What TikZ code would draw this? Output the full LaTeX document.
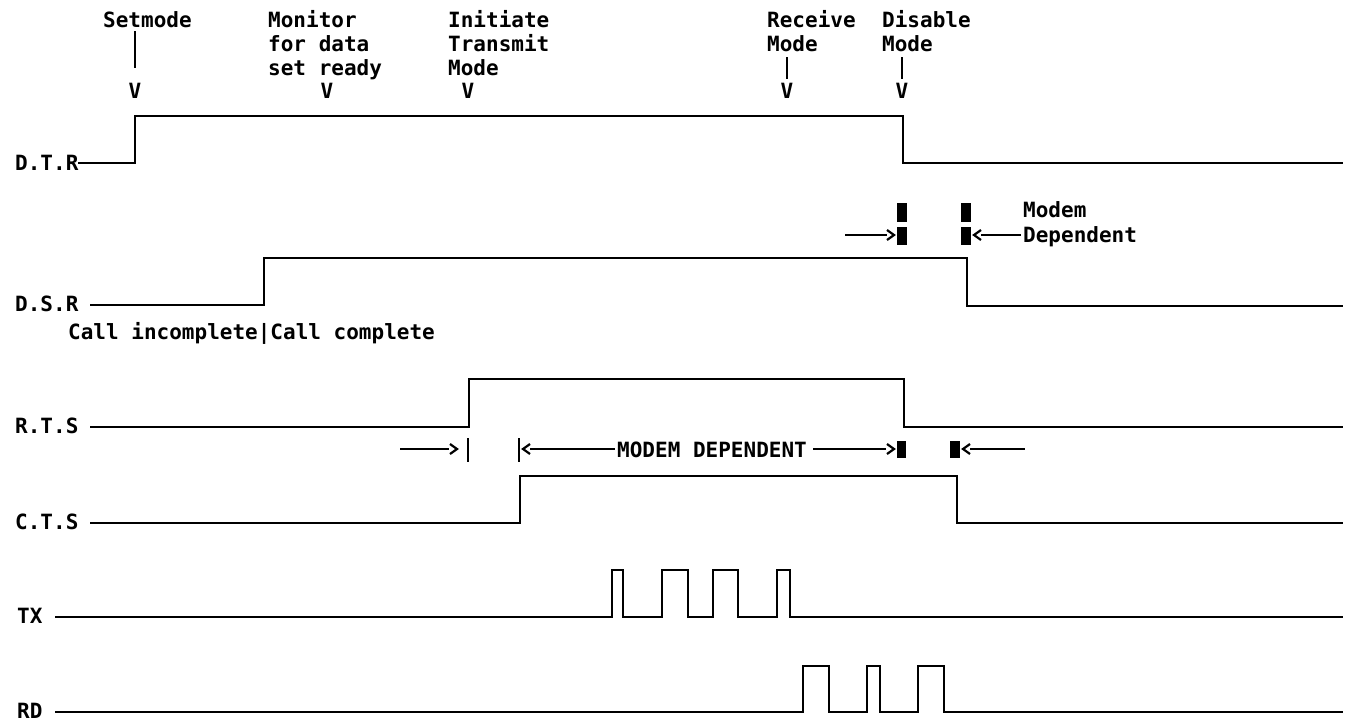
\documentclass[tikz,border=0pt]{standalone}
\usepackage{fontspec}
\newfontfamily\mono{DejaVu Sans Mono Bold}
\begin{document}
\begin{tikzpicture}[x=1pt,y=-1pt,
  sig/.style={line width=2.8pt,line join=miter},
  tick/.style={line width=2.4pt},
  chev/.style={line width=2.2pt,line join=miter},
  txt/.style={inner sep=0pt,anchor=base west,font=\mono\fontsize{21}{24}\selectfont},
  ctxt/.style={inner sep=0pt,anchor=base,font=\mono\fontsize{21}{24}\selectfont},
  blk/.style={fill=black,draw=none}]
\useasboundingbox (0,0) rectangle (1346,721);

% ---- top event labels ----
\node[txt] (setmode) at (103,27) {Setmode};
\draw[tick] (135,31) -- (135,68);
\node[ctxt] (v1) at (135,98) {V};

\node[txt] (mon1) at (268,27) {Monitor};
\node[txt] (mon2) at (268,51) {for data};
\node[txt] (mon3) at (268,75) {set ready};
\node[ctxt] (v2) at (327,98) {V};

\node[txt] (ini1) at (448,27) {Initiate};
\node[txt] (ini2) at (448,51) {Transmit};
\node[txt] (ini3) at (448,75) {Mode};
\node[ctxt] (v3) at (468,98) {V};

\node[txt] (rec1) at (767,27) {Receive};
\node[txt] (rec2) at (767,51) {Mode};
\draw[tick] (787,57) -- (787,79);
\node[ctxt] (v4) at (787,98) {V};

\node[txt] (dis1) at (882,27) {Disable};
\node[txt] (dis2) at (882,51) {Mode};
\draw[tick] (902,57) -- (902,79);
\node[ctxt] (v5) at (902,98) {V};

% ---- D.T.R ----
\node[txt] (dtr) at (15,170) {D.T.R};
\coordinate (dtrS) at (78,163);
\draw[sig] (dtrS) -- (135,163) -- (135,116) -- (903,116) -- (903,163) -- (1343,163);

% ---- Modem dependent (DTR/DSR) ----
\node[txt] (modem) at (1023,217) {Modem};
\node[txt] (dep) at (1023,242) {Dependent};
\fill[blk] (897,203) rectangle (907,222);
\fill[blk] (897,227) rectangle (907,245);
\fill[blk] (961,203) rectangle (971,222);
\fill[blk] (961,227) rectangle (971,245);
\coordinate (a1s) at (845,235);
\coordinate (a1e) at (887,235);
\draw[chev] (a1s) -- (a1e);
\draw[chev] (887,230) -- (894,235) -- (887,240);
\coordinate (a2s) at (981,235);
\coordinate (a2e) at (1021,235);
\draw[chev] (a2s) -- (a2e);
\draw[chev] (981,230) -- (974,235) -- (981,240);

% ---- D.S.R ----
\node[txt] (dsr) at (15,311) {D.S.R};
\coordinate (dsrS) at (90,305);
\draw[sig] (dsrS) -- (264,305) -- (264,258) -- (967,258) -- (967,306) -- (1343,306);
\node[txt] (call) at (68,339) {Call incomplete|Call complete};

% ---- R.T.S ----
\node[txt] (rts) at (15,433) {R.T.S};
\coordinate (rtsS) at (90,427);
\draw[sig] (rtsS) -- (469,427) -- (469,379) -- (904,379) -- (904,427) -- (1343,427);

% ---- modem dependent row ----
\coordinate (b1s) at (400,449);
\coordinate (b1e) at (449,449);
\draw[chev] (b1s) -- (b1e);
\draw[chev] (450,444) -- (457,449) -- (450,454);
\draw[tick] (468,438) -- (468,462);
\draw[tick] (519,438) -- (519,462);
\draw[chev] (530,444) -- (523,449) -- (530,454);
\coordinate (b2s) at (530,449);
\coordinate (b2e) at (615,449);
\draw[chev] (b2s) -- (b2e);
\node[txt] (md) at (617,457) {MODEM DEPENDENT};
\coordinate (b3s) at (813,449);
\coordinate (b3e) at (886,449);
\draw[chev] (b3s) -- (b3e);
\draw[chev] (887,444) -- (894,449) -- (887,454);
\fill[blk] (897,441) rectangle (906,458);
\fill[blk] (950,441) rectangle (960,458);
\draw[chev] (970,444) -- (963,449) -- (970,454);
\coordinate (b4s) at (970,449);
\coordinate (b4e) at (1025,449);
\draw[chev] (b4s) -- (b4e);

% ---- C.T.S ----
\node[txt] (cts) at (15,529) {C.T.S};
\coordinate (ctsS) at (90,523);
\draw[sig] (ctsS) -- (520,523) -- (520,476) -- (957,476) -- (957,523) -- (1343,523);

% ---- TX ----
\node[txt] (tx) at (17,623) {TX};
\coordinate (txS) at (55,617);
\draw[sig] (txS) -- (612,617) -- (612,570) -- (623,570) -- (623,617)
  -- (662,617) -- (662,570) -- (688,570) -- (688,617)
  -- (713,617) -- (713,570) -- (738,570) -- (738,617)
  -- (777,617) -- (777,570) -- (790,570) -- (790,617) -- (1343,617);

% ---- RD ----
\node[txt] (rd) at (17,718) {RD};
\coordinate (rdS) at (55,712);
\draw[sig] (rdS) -- (803,712) -- (803,666) -- (829,666) -- (829,712)
  -- (867,712) -- (867,666) -- (880,666) -- (880,712)
  -- (918,712) -- (918,666) -- (944,666) -- (944,712) -- (1343,712);
\end{tikzpicture}
\end{document}
